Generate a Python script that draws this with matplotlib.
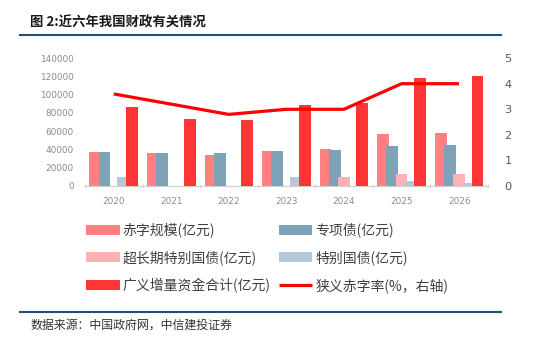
####### Import necessary libraries
import numpy as np
import matplotlib
matplotlib.use('Agg')
from matplotlib import pyplot as plt

plt.rcParams['font.family'] = ['Noto Sans CJK SC', 'DejaVu Sans']

###### Data
years = ['2020', '2021', '2022', '2023', '2024', '2025', '2026']
deficit = [37600, 35700, 33700, 38800, 40600, 56600, 58000]          # 赤字规模
special_bond = [37500, 36500, 36500, 38000, 39000, 44000, 45000]     # 专项债
ultra_long = [0, 0, 0, 0, 10000, 13000, 13000]                       # 超长期特别国债
special_treasury = [10000, 0, 0, 10000, 0, 5000, 3000]               # 特别国债
total = [86700, 73600, 71800, 88200, 91100, 118600, 120500]          # 广义增量资金合计
deficit_rate = [3.6, 3.2, 2.8, 3.0, 3.0, 4.0, 4.0]                   # 狭义赤字率

labels = ['赤字规模(亿元)', '专项债(亿元)', '超长期特别国债(亿元)',
          '特别国债(亿元)', '广义增量资金合计(亿元)', '狭义赤字率(%，右轴)']
colors = ['#FF8080', '#7EA2B8', '#FFB1B6', '#B6C8D7', '#FF3535']

###### Figure
fig = plt.figure(figsize=(5.5, 3.4), dpi=100)
ax = fig.add_axes([0.1545, 0.453, 0.7325, 0.376])
ax2 = ax.twinx()

x = np.arange(len(years))
width = 0.205
step = 0.16
series = [deficit, special_bond, ultra_long, special_treasury, total]
bars = []
for i, s in enumerate(series):
    b = ax.bar(x + (i - 2) * step, s, width, color=colors[i], zorder=2 + i)
    bars.append(b)

line, = ax2.plot(x, deficit_rate, color='#FF0000', lw=2.3, solid_capstyle='butt')

ax.set_xlim(-0.5, 6.5)
ax.set_ylim(0, 140000)
ax2.set_ylim(0, 5)
ax.set_yticks(np.arange(0, 140001, 20000))
ax2.set_yticks(np.arange(0, 6, 1))
ax.set_xticks(x)
ax.set_xticklabels(years)
ax.set_xticks(np.arange(-0.5, 7, 1), minor=True)

for a in (ax, ax2):
    for sp in ['top', 'left', 'right', 'bottom']:
        a.spines[sp].set_visible(False)
ax.spines['bottom'].set_visible(True)
ax.spines['bottom'].set_color('#D0D0D0')
ax.spines['bottom'].set_linewidth(0.9)

ax.tick_params(axis='y', length=0, pad=8, labelsize=6.4, labelcolor='#8C8C8C')
ax.tick_params(axis='x', which='major', length=0, pad=8, labelsize=6.4, labelcolor='#8C8C8C')
ax.tick_params(axis='x', which='minor', length=3, direction='inout', color='#D0D0D0')
ax2.tick_params(axis='y', length=0, pad=12, labelsize=8.2, labelcolor='#595959')
for t in ax.get_yticklabels() + ax.get_xticklabels() + ax2.get_yticklabels():
    t.set_fontfamily('DejaVu Sans')

###### Title, rules and source
fig.text(0.055, 0.935, '图 2:近六年我国财政有关情况', fontsize=9.6, fontweight='bold',
         color='#1A1A1A', va='center')
fig.add_artist(plt.Line2D([0.036, 0.911], [0.898, 0.898], color='#1F4E79', lw=1.5))
fig.add_artist(plt.Line2D([0.036, 0.911], [0.082, 0.082], color='#1F4E79', lw=1.5))
fig.text(0.055, 0.044, '数据来源：中国政府网，中信建投证券', fontsize=8.6, style='italic',
         color='#333333', va='center')

###### Legend (row order: deficit/special, ultra-long/special treasury, total/line)
handles = [bars[0], bars[2], bars[4], bars[1], bars[3], line]
leg_labels = [labels[0], labels[2], labels[4], labels[1], labels[3], labels[5]]
leg = fig.legend(handles, leg_labels, loc='upper left', bbox_to_anchor=(0.157, 0.345),
                 ncol=2, frameon=False, fontsize=10, handlelength=2.4, handleheight=0.75,
                 handletextpad=0.2, labelspacing=0.93, columnspacing=0.62, borderpad=0,
                 borderaxespad=0)
for t in leg.get_texts():
    t.set_color('#404040')

fig.savefig('out.png', dpi=100)
